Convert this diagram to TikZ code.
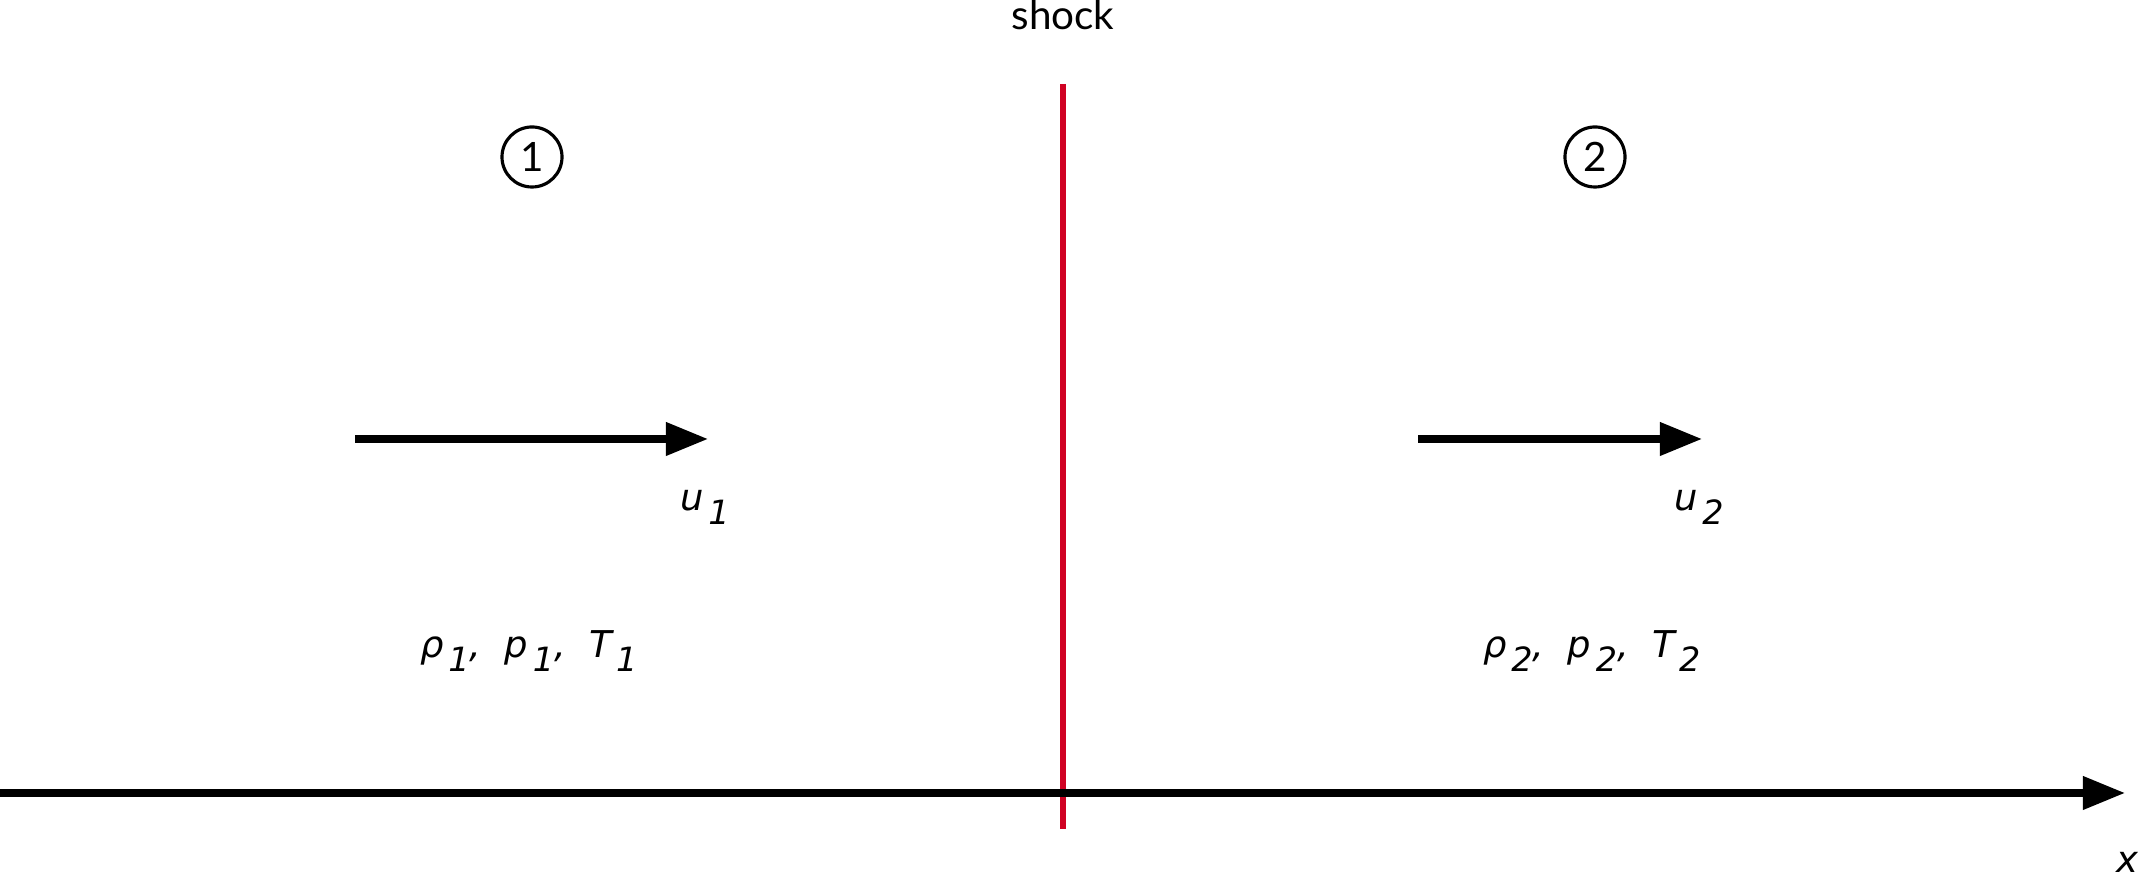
\documentclass[tikz,border=0pt]{standalone}
\usepackage{fontspec}
\setmainfont{Lato}
\newfontfamily\symfont{DejaVu Sans}
\usetikzlibrary{arrows.meta}
\definecolor{shockred}{RGB}{208,2,35}
\newcommand{\idx}[1]{\kern0.12em\raisebox{-0.36em}{\fontsize{9.5}{10}\selectfont #1}}
\tikzset{
  flow/.style={line width=2pt,-{Triangle[length=0.42cm,width=0.32cm]}},
  region/.style={circle,draw,line width=0.9pt,minimum size=0.6cm,inner sep=0pt,font=\fontsize{11.5}{13}\selectfont},
  lbl/.style={font=\symfont\fontsize{10.5}{13}\selectfont\itshape,anchor=base},
}
\begin{document}
\begin{tikzpicture}[x=0.01cm,y=-0.01cm]
  \useasboundingbox (0,0) rectangle (2138,874);
  \node[anchor=base,font=\fontsize{11.5}{13}\selectfont] (shock) at (1063,30) {shock};
  \node[region] (r1) at (532,157) {1};
  \node[region] (r2) at (1595,157) {2};
  \coordinate (stop) at (1063,84);
  \coordinate (sbot) at (1063,829);
  \coordinate (u1s) at (355,439);
  \coordinate (u1e) at (708,439);
  \coordinate (u2s) at (1418,439);
  \coordinate (u2e) at (1702,439);
  \coordinate (x0) at (0,793);
  \coordinate (x1) at (2125,793);
  \node[lbl] (u1) at (705,511) {u\idx{1}};
  \node[lbl] (u2) at (1699,511) {u\idx{2}};
  \node[lbl] (st1) at (529,658) {ρ\idx{1}, \ p\idx{1}, \ T\idx{1}};
  \node[lbl] (st2) at (1592,658) {ρ\idx{2}, \ p\idx{2}, \ T\idx{2}};
  \node[lbl] (xl) at (2127,873) {x};
  \draw[shockred,line width=1.8pt] (stop) -- (sbot);
  \draw[flow] (u1s) -- (u1e);
  \draw[flow] (u2s) -- (u2e);
  \draw[flow] (x0) -- (x1);
\end{tikzpicture}
\end{document}
